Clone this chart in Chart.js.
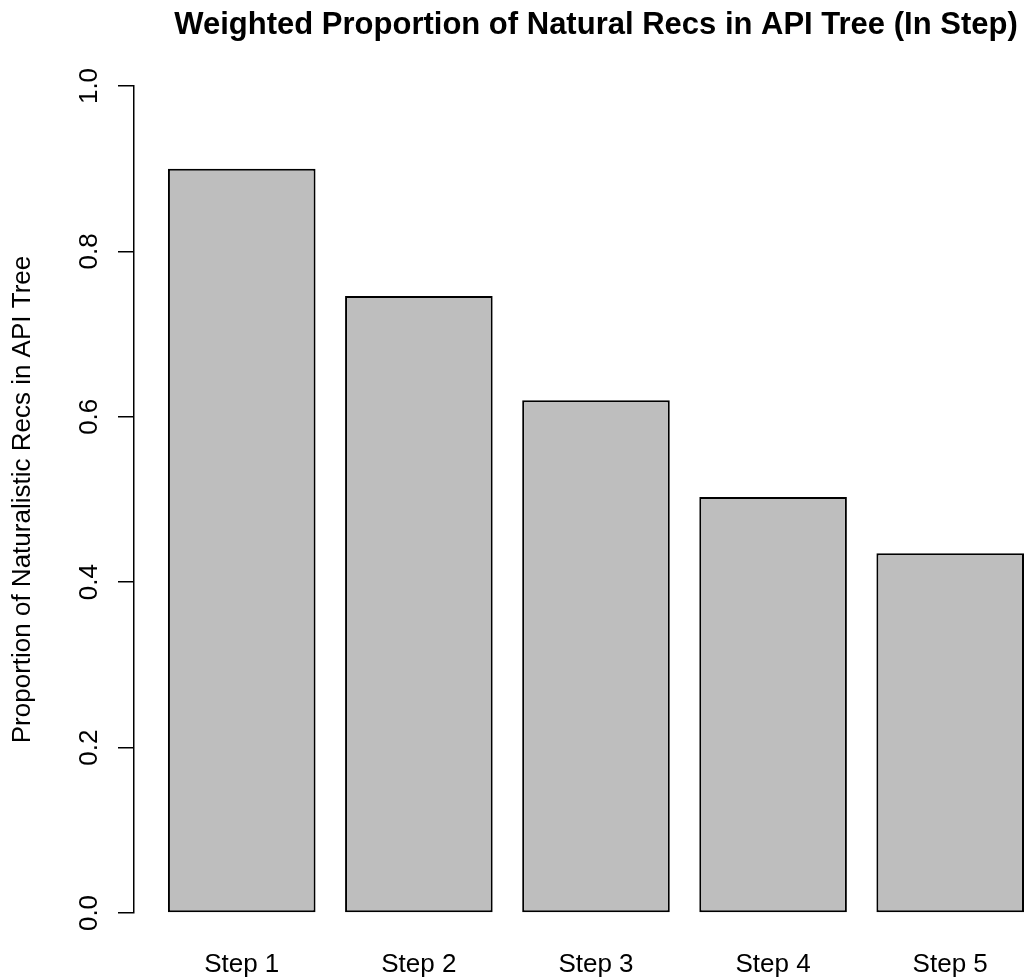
<!DOCTYPE html>
<html>
<head>
<meta charset="utf-8">
<script src="https://cdn.jsdelivr.net/npm/chart.js@4"></script>
<style>
  html, body { margin: 0; padding: 0; background: #ffffff; overflow: hidden; }
  #wrap { width: 1024px; height: 980px; }
</style>
</head>
<body>
<div id="wrap"><canvas id="c" width="1024" height="980"></canvas></div>
<script>
// ---- data ----
const categories = ['Step 1', 'Step 2', 'Step 3', 'Step 4', 'Step 5'];
const values = [0.900, 0.746, 0.620, 0.503, 0.435];
const yTickValues = [0, 0.2, 0.4, 0.6, 0.8, 1.0];
const yTickLabels = ['0.0', '0.2', '0.4', '0.6', '0.8', '1.0'];
const titleText = 'Weighted Proportion of Natural Recs in API Tree (In Step)';
const yAxisTitle = 'Proportion of Naturalistic Recs in API Tree';

// R barplot layout: width 1, space 0.2
const barWidth = 1, barSpace = 0.2;
const centers = categories.map((c, i) => barSpace + i * (barWidth + barSpace) + barWidth / 2);

const FONT = '"Liberation Sans", Arial, Helvetica, sans-serif';

const rDecor = {
  id: 'rDecor',
  afterDraw(chart) {
    const ctx = chart.ctx;
    const ys = chart.scales.y;
    ctx.save();
    // title
    ctx.fillStyle = '#000';
    ctx.font = 'bold 31px ' + FONT;
    ctx.textAlign = 'center';
    ctx.textBaseline = 'alphabetic';
    ctx.fillText(titleText, 596, 34);
    // y tick labels (rotated, R las=0)
    ctx.font = '26px ' + FONT;
    yTickValues.forEach((v, i) => {
      const py = ys.getPixelForValue(v);
      ctx.save();
      ctx.translate(97, py);
      ctx.rotate(-Math.PI / 2);
      ctx.textAlign = 'center';
      ctx.textBaseline = 'alphabetic';
      ctx.fillText(yTickLabels[i], 0, 0);
      ctx.restore();
    });
    ctx.restore();
  }
};

new Chart(document.getElementById('c'), {
  type: 'bar',
  data: {
    datasets: [{
      data: categories.map((c, i) => ({ x: centers[i], y: values[i] })),
      backgroundColor: '#BEBEBE',
      borderColor: '#000000',
      borderWidth: 2,
      borderSkipped: false,
      barPercentage: barWidth / (barWidth + barSpace),
      categoryPercentage: 1.0
    }]
  },
  options: {
    responsive: false,
    animation: false,
    devicePixelRatio: 1,
    layout: { padding: { top: 86, left: 0, right: 0, bottom: 0 } },
    plugins: {
      legend: { display: false },
      tooltip: { enabled: false },
      title: { display: false }
    },
    scales: {
      x: {
        type: 'linear',
        offset: false,
        min: -0.03,
        max: 6.0,
        afterBuildTicks: (s) => { s.ticks = centers.map(v => ({ value: v })); },
        afterFit: (s) => { s.height = 67; },
        grid: { display: false, drawTicks: false, offset: false },
        border: { display: false },
        ticks: {
          autoSkip: false,
          maxRotation: 0,
          minRotation: 0,
          padding: 36,
          color: '#000',
          font: { family: FONT, size: 26 },
          callback: (v, idx) => categories[idx]
        }
      },
      y: {
        type: 'linear',
        min: 0,
        max: 1,
        afterBuildTicks: (s) => { s.ticks = yTickValues.map(v => ({ value: v })); },
        afterFit: (s) => { s.width = 134; },
        grid: {
          drawOnChartArea: false,
          drawTicks: true,
          tickLength: 16,
          color: '#000',
          lineWidth: 1.5
        },
        border: { display: true, color: '#000', width: 1.5 },
        ticks: { display: false },
        title: {
          display: true,
          text: yAxisTitle,
          color: '#000',
          font: { family: FONT, size: 26 },
          padding: { top: 7, bottom: 0 }
        }
      }
    }
  },
  plugins: [rDecor]
});
</script>
</body>
</html>
